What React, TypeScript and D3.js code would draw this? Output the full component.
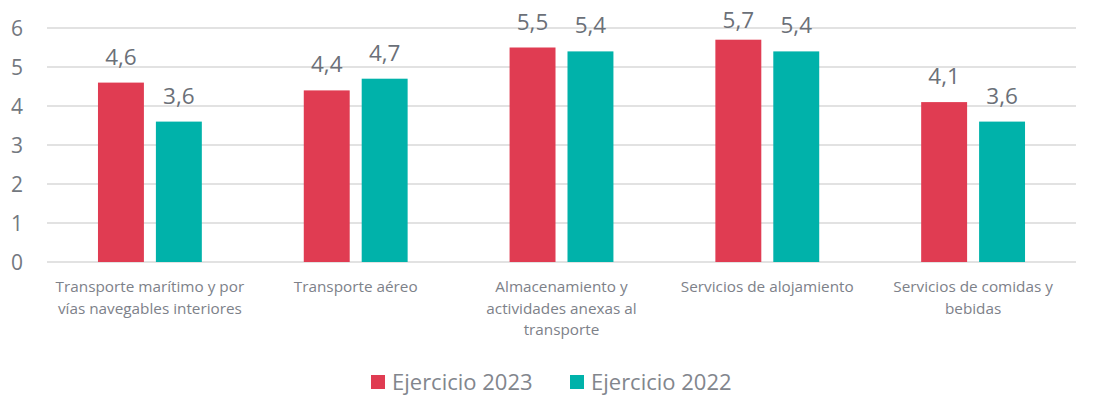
import React from 'react';
import * as d3 from 'd3';

const WIDTH = 1101;
const HEIGHT = 415;

const categories = [
    'Transporte marítimo y por vías navegables interiores',
    'Transporte aéreo',
    'Almacenamiento y actividades anexas al transporte',
    'Servicios de alojamiento',
    'Servicios de comidas y bebidas',
];

// how the category labels wrap in the reference
const categoryLines = [
    ['Transporte marítimo y por', 'vías navegables interiores'],
    ['Transporte aéreo'],
    ['Almacenamiento y', 'actividades anexas al', 'transporte'],
    ['Servicios de alojamiento'],
    ['Servicios de comidas y', 'bebidas'],
];

const seriesNames = ['Ejercicio 2023', 'Ejercicio 2022'];
const values2023 = [4.6, 4.4, 5.5, 5.7, 4.1];
const values2022 = [3.6, 4.7, 5.4, 5.4, 3.6];
const yTicks = [0, 1, 2, 3, 4, 5, 6];

const COLORS = ['#e03c52', '#00b2aa'];
const FONT = '"Open Sans", "Noto Sans", sans-serif';

const App: React.FC = () => {
    const margin = { left: 47, right: 25, top: 28, bottom: 153 };
    const plotBottom = HEIGHT - margin.bottom;

    const x = d3.scaleBand<string>()
        .domain(categories)
        .range([margin.left, WIDTH - margin.right])
        .paddingInner(0)
        .paddingOuter(0);

    const inner = d3.scaleBand<string>()
        .domain(seriesNames)
        .range([0, x.bandwidth()])
        .paddingInner(0.207)
        .paddingOuter(0.88);

    const y = d3.scaleLinear().domain([0, 6]).range([plotBottom, margin.top]);

    const series = [values2023, values2022];
    const fmt = (v: number) => v.toFixed(1).replace('.', ',');

    return (
        <div style={{ position: 'absolute', left: 0, top: 0 }}>
            <svg width={WIDTH} height={HEIGHT} style={{ display: 'block', fontFamily: FONT }}>
                <rect width={WIDTH} height={HEIGHT} fill="#fff" />
                {yTicks.map((t) => (
                    <g key={t}>
                        <line
                            x1={margin.left}
                            x2={WIDTH - margin.right}
                            y1={y(t)}
                            y2={y(t)}
                            stroke="#d9d9d9"
                            strokeWidth={1.3}
                        />
                        <text x={23} y={y(t) + 7.5} textAnchor="end" fontSize={21} fill="#737880">
                            {t}
                        </text>
                    </g>
                ))}

                {categories.map((c, ci) => (
                    <g key={c} transform={`translate(${x(c)},0)`}>
                        {series.map((vals, si) => {
                            const bx = inner(seriesNames[si])!;
                            const v = vals[ci];
                            // labels are kept inside the chart area, like Excel does
                            const ly = Math.max(y(v) - 18, 28);
                            return (
                                <g key={si}>
                                    <rect
                                        x={bx}
                                        y={y(v)}
                                        width={inner.bandwidth()}
                                        height={plotBottom - y(v)}
                                        fill={COLORS[si]}
                                    />
                                    <text
                                        x={bx + inner.bandwidth() / 2}
                                        y={ly}
                                        textAnchor="middle"
                                        fontSize={22.5}
                                        fill="#6b7078"
                                    >
                                        {fmt(v)}
                                    </text>
                                </g>
                            );
                        })}
                        {categoryLines[ci].map((line, li) => (
                            <text
                                key={li}
                                x={x.bandwidth() / 2}
                                y={plotBottom + 30 + li * 21.5}
                                textAnchor="middle"
                                fontSize={15.3}
                                fill="#7d8189"
                            >
                                {line}
                            </text>
                        ))}
                    </g>
                ))}

                {/* legend */}
                {seriesNames.map((name, i) => {
                    const lx = 371 + i * 199;
                    return (
                        <g key={name}>
                            <rect x={lx} y={375} width={14} height={14} fill={COLORS[i]} />
                            <text x={lx + 21} y={390} fontSize={22} fill="#82868d">
                                {name}
                            </text>
                        </g>
                    );
                })}
            </svg>
        </div>
    );
};

export default App;
